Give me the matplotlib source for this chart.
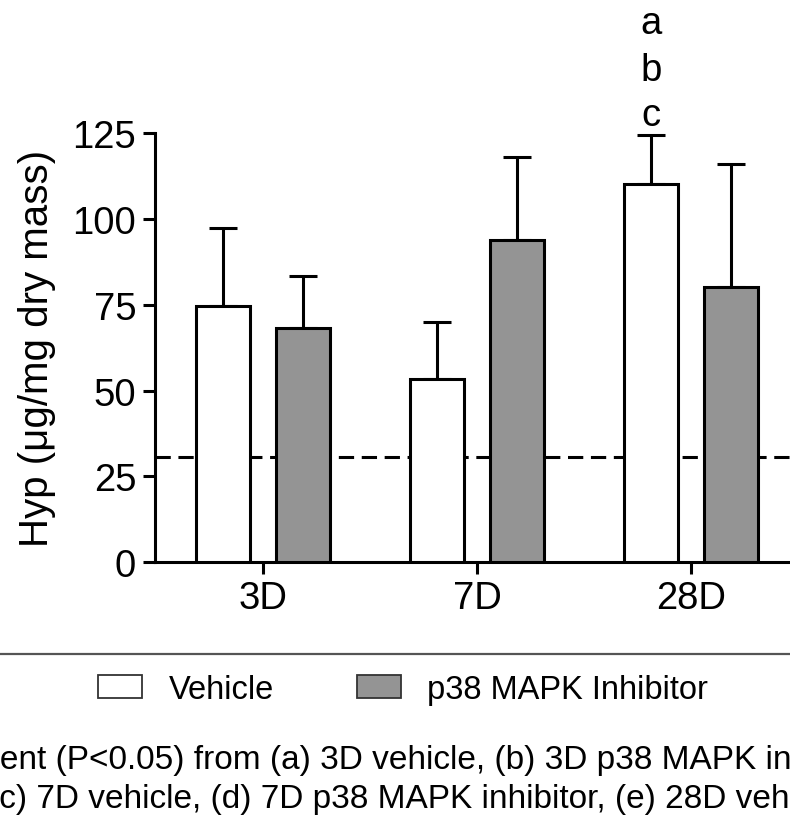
import numpy as np
import matplotlib
matplotlib.use("Agg")
import matplotlib.pyplot as plt
from matplotlib.patches import Patch
from matplotlib.lines import Line2D

plt.rcParams['font.family'] = ['Liberation Sans', 'DejaVu Sans']

# ---- data ----
categories = ['3D', '7D', '28D']
series_names = ['Vehicle', 'p38 MAPK Inhibitor']
vehicle_mean = [74.8, 53.4, 110.1]
vehicle_err = [22.6, 16.6, 14.3]
inhibitor_mean = [68.2, 94.0, 80.2]
inhibitor_err = [15.2, 24.1, 35.7]
baseline_value = 30.6
sig_letters = ['a', 'b', 'c']
yticks = [0, 25, 50, 75, 100, 125]
footnote_line1 = "Significantly different (P<0.05) from (a) 3D vehicle, (b) 3D p38 MAPK inhibitor,"
footnote_line2 = "(c) 7D vehicle, (d) 7D p38 MAPK inhibitor, (e) 28D vehicle"

W, H = 790, 828
fig = plt.figure(figsize=(W / 100, H / 100), dpi=100)

def fx(px):
    return px / W

def fy(py):
    return 1 - py / H

ax_left, ax_right = 155, 797.6
ax_top, ax_bot = 134.2, 563.3
ax = fig.add_axes([fx(ax_left), fy(ax_bot), fx(ax_right - ax_left), (ax_bot - ax_top) / H])

x = np.arange(len(categories))
bw = 0.253
off = 0.187
lw = 2.2
colors = ['white', '#949494']

ax.axhline(baseline_value, color='black', lw=lw, dashes=(5, 2.5), zorder=1)

for i, (means, errs) in enumerate([(vehicle_mean, vehicle_err), (inhibitor_mean, inhibitor_err)]):
    pos = x + (-off if i == 0 else off)
    ax.bar(pos, means, width=bw, color=colors[i], edgecolor='black', linewidth=lw, zorder=3)
    ax.errorbar(pos, means, yerr=[np.zeros(len(errs)), errs], fmt='none', ecolor='black',
                elinewidth=lw, capsize=10.4, capthick=lw, zorder=2)

# significance letters above 28D vehicle
xi = x[2] - off
ytop = vehicle_mean[2] + vehicle_err[2]
for letter, dy in zip(sig_letters, [73.5, 39.5, 7.2]):
    ax.annotate(letter, xy=(xi, ytop), xytext=(0, dy), textcoords='offset points',
                ha='center', va='baseline', fontsize=27.5, annotation_clip=False)

ax.set_xlim(-0.507, 2.5)
ax.set_ylim(0, 125)
ax.set_yticks(yticks)
ax.set_xticks(x)
ax.set_xticklabels(categories)
for s in ['top', 'right']:
    ax.spines[s].set_visible(False)
for s in ['left', 'bottom']:
    ax.spines[s].set_linewidth(lw)
ax.tick_params(axis='both', length=8.5, width=lw, labelsize=27.5, direction='out')
ax.tick_params(axis='y', pad=5)
ax.tick_params(axis='x', pad=4)
ax.set_ylabel('Hyp (μg/mg dry mass)', fontsize=29)
ax.yaxis.set_label_coords((56 - ax_left) / (ax_right - ax_left), 0.5)

# separator line
fig.add_artist(Line2D([0, 1], [fy(655), fy(655)], color='#555555', lw=1.6, transform=fig.transFigure))

# legend
handles = [Patch(facecolor=colors[0], edgecolor='#333333', lw=1.3),
           Patch(facecolor=colors[1], edgecolor='#333333', lw=1.3)]
fig.legend(handles, series_names, loc='center', bbox_to_anchor=(fx(403), fy(690.4)), ncol=2,
           frameon=False, fontsize=23.5, handlelength=1.35, handleheight=0.705,
           handletextpad=0.8, columnspacing=2.54, borderpad=0)

# footnote (cropped at the figure edges as in the reference)
fs_note = 24
renderer = fig.canvas.get_renderer()
def text_width(s, size):
    t = fig.text(0, 0, s, fontsize=size)
    w = t.get_window_extent(renderer).width
    t.remove()
    return w

w1 = text_width("Significantly differ", fs_note)
w2 = text_width("(", fs_note)
fig.text(fx(0 - w1), fy(769.3), footnote_line1, fontsize=fs_note, va='baseline', ha='left')
fig.text(fx(-1 - w2), fy(808.3), footnote_line2, fontsize=fs_note, va='baseline', ha='left')

fig.savefig('out.png', dpi=100)
